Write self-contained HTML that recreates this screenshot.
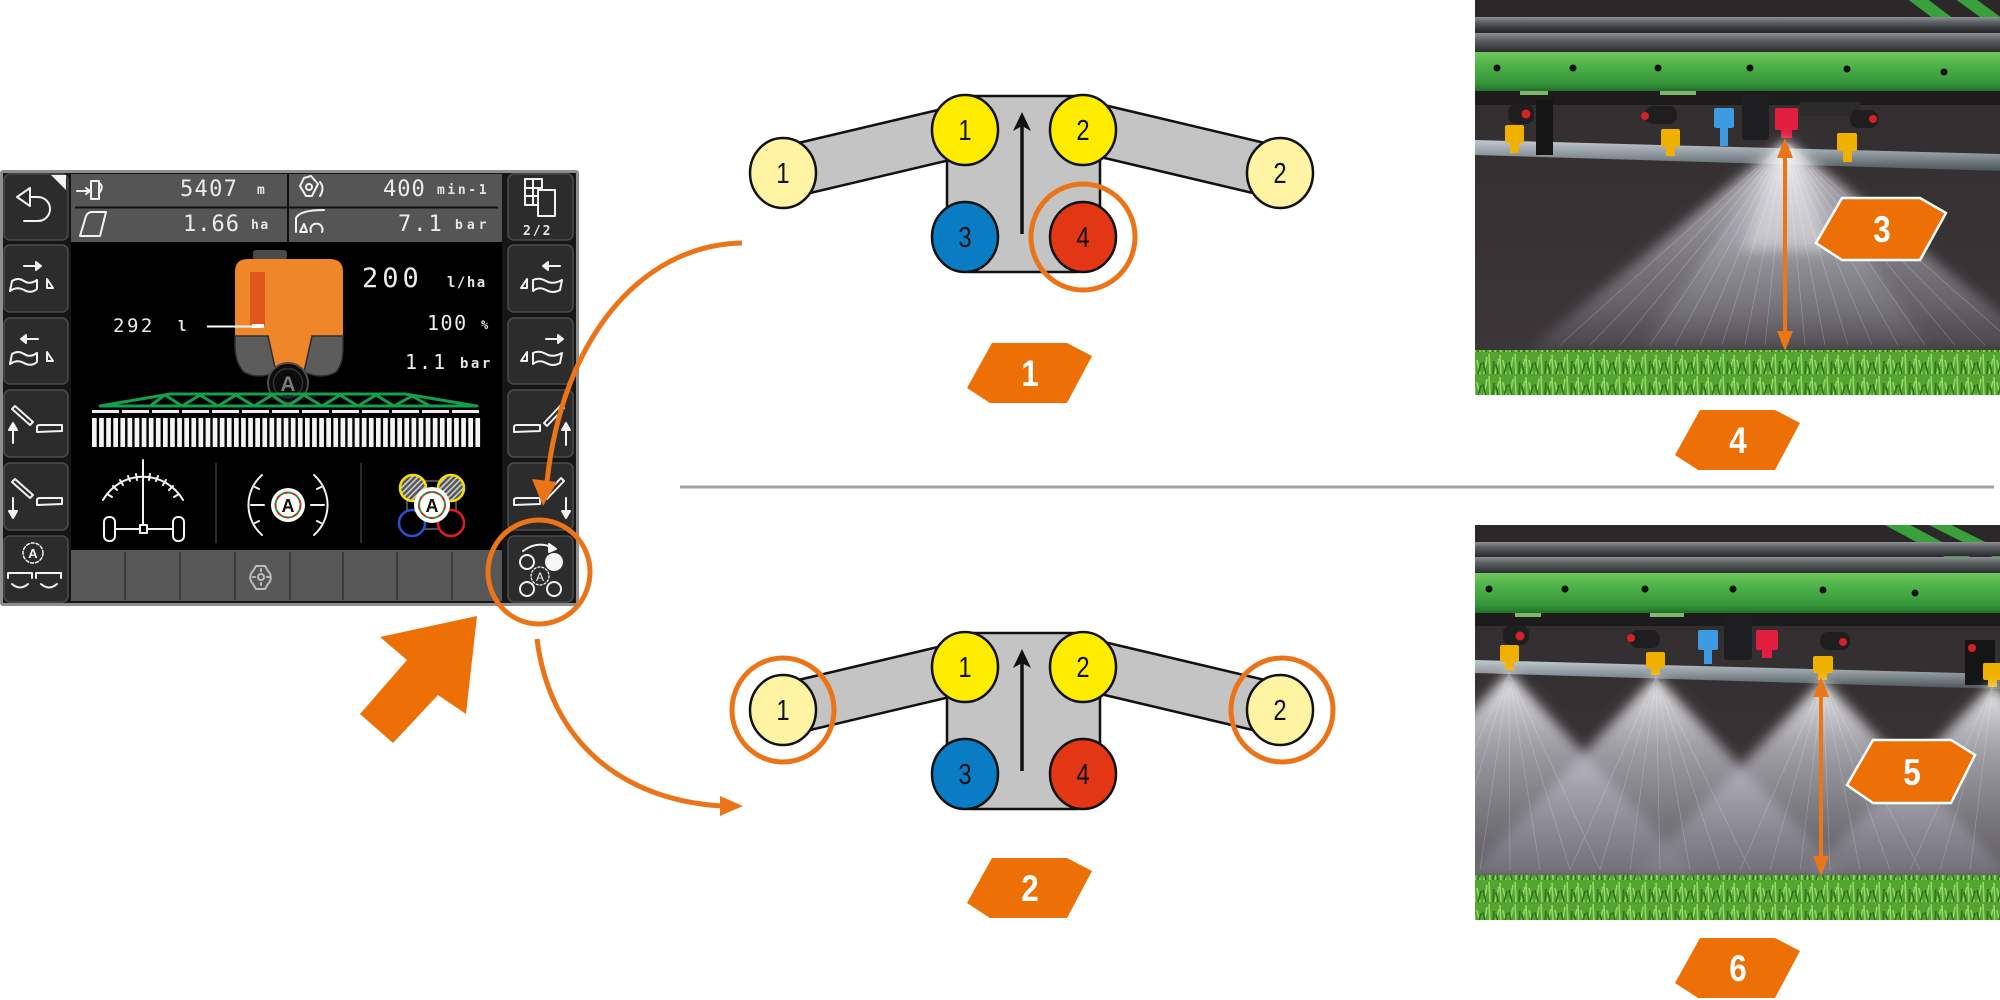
<!DOCTYPE html>
<html><head><meta charset="utf-8">
<style>
html,body{margin:0;padding:0;background:#fff;width:2000px;height:1000px;overflow:hidden;}
svg{display:block;}
.mono{font-family:"DejaVu Sans Mono","Liberation Mono",monospace;fill:#ececec;}
.u{font-family:"DejaVu Sans Mono","Liberation Mono",monospace;fill:#e6e6e6;font-weight:bold;}
.num{font-family:"Liberation Sans Narrow","Liberation Sans",sans-serif;font-size:29px;fill:#111;text-anchor:middle;}
.lab{font-family:"Liberation Sans Narrow","Liberation Sans",sans-serif;font-size:37px;font-weight:bold;fill:#fff;text-anchor:middle;}
.ic{fill:none;stroke:#f2f2f2;stroke-width:2;stroke-linejoin:round;stroke-linecap:round;}
</style></head><body>
<svg width="2000" height="1000" viewBox="0 0 2000 1000" xmlns="http://www.w3.org/2000/svg">
<defs>
  <linearGradient id="beam" x1="0" y1="0" x2="0" y2="1">
    <stop offset="0" stop-color="#6ec85c"/><stop offset="0.35" stop-color="#4db248"/>
    <stop offset="0.8" stop-color="#35963a"/><stop offset="1" stop-color="#216f2a"/>
  </linearGradient>
  <linearGradient id="tube" x1="0" y1="0" x2="0" y2="1">
    <stop offset="0" stop-color="#8d9194"/><stop offset="0.35" stop-color="#5f6366"/><stop offset="1" stop-color="#2a2c2e"/>
  </linearGradient>
  <linearGradient id="pipe" x1="0" y1="0" x2="0" y2="1">
    <stop offset="0" stop-color="#c2cad0"/><stop offset="0.45" stop-color="#8f999f"/><stop offset="1" stop-color="#4a5256"/>
  </linearGradient>
  <linearGradient id="cone" x1="0" y1="0" x2="0" y2="1">
    <stop offset="0" stop-color="#ffffff" stop-opacity="1"/>
    <stop offset="0.3" stop-color="#d4d4de" stop-opacity="0.8"/>
    <stop offset="0.8" stop-color="#9a9aa4" stop-opacity="0.55"/>
    <stop offset="1" stop-color="#707078" stop-opacity="0.35"/>
  </linearGradient>
  <linearGradient id="cone2" x1="0" y1="0" x2="0" y2="1">
    <stop offset="0" stop-color="#ffffff" stop-opacity="1"/>
    <stop offset="0.35" stop-color="#c8c8d2" stop-opacity="0.8"/>
    <stop offset="1" stop-color="#80808a" stop-opacity="0.55"/>
  </linearGradient>
  <linearGradient id="bgph" x1="0" y1="0" x2="0" y2="1">
    <stop offset="0" stop-color="#2f2b2c"/><stop offset="1" stop-color="#3d3739"/>
  </linearGradient>
  <pattern id="grass" width="26" height="22" patternUnits="userSpaceOnUse">
    <rect width="26" height="22" fill="#53a430"/>
    <path d="M2,22 L5,5 M8,22 L7,2 M13,22 L17,7 M19,22 L18,3 M24,22 L21,8" stroke="#96d868" stroke-width="1.6" fill="none"/>
    <path d="M4,22 L1,10 M11,22 L12,9 M16,22 L14,12 M22,22 L25,11" stroke="#2e701c" stroke-width="1.6" fill="none"/>
  </pattern>
  <pattern id="hatch" width="4" height="4" patternUnits="userSpaceOnUse" patternTransform="rotate(45)">
    <rect width="4" height="4" fill="#555"/><rect width="1.6" height="4" fill="#cfcfcf"/>
  </pattern>
  <filter id="soft" x="-10%" y="-10%" width="120%" height="120%"><feGaussianBlur stdDeviation="6"/></filter>
  <clipPath id="ph1"><rect x="1475" y="0" width="525" height="395"/></clipPath>
  <clipPath id="ph2"><rect x="1475" y="525" width="525" height="395"/></clipPath>
</defs>

<rect width="2000" height="1000" fill="#fff"/>

<!-- ================= SCREEN ================= -->
<rect x="0" y="170" width="579" height="436" rx="3" fill="#8e8e8e"/>
<rect x="3" y="173" width="573" height="430" fill="#161616"/>
<rect x="71" y="174" width="431" height="68" fill="#555"/>
<line x1="75" y1="207.5" x2="498" y2="207.5" stroke="#111" stroke-width="2"/>
<line x1="288" y1="174" x2="288" y2="242" stroke="#111" stroke-width="2"/>
<rect x="71" y="242" width="431" height="308" fill="#000"/>
<rect x="71" y="550" width="431" height="51" fill="#575757"/>
<g stroke="#3a3a3a" stroke-width="2">
  <line x1="125" y1="552" x2="125" y2="600"/><line x1="180" y1="552" x2="180" y2="600"/>
  <line x1="235" y1="552" x2="235" y2="600"/><line x1="290" y1="552" x2="290" y2="600"/>
  <line x1="343" y1="552" x2="343" y2="600"/><line x1="397" y1="552" x2="397" y2="600"/>
  <line x1="452" y1="552" x2="452" y2="600"/>
</g>
<g class="ic" stroke-width="1.5" style="stroke:#bdbdbd">
  <path d="M256,566 h9 l3,5 a9,9 0 0 1 0,13 l-3,5 h-9 l-3,-5 a9,9 0 0 1 0,-13 z"/>
  <circle cx="261" cy="577" r="3"/>
  <path d="M261,571 v-2 M261,583 v2 M255,577 h-2 M267,577 h2"/>
</g>

<g fill="#2c2c2c" stroke="#4c4c4c" stroke-width="1.5">
  <rect x="4" y="174" width="64" height="66" rx="6"/>
  <rect x="4" y="245" width="64" height="67" rx="6"/>
  <rect x="4" y="318" width="64" height="66" rx="6"/>
  <rect x="4" y="390" width="64" height="67" rx="6"/>
  <rect x="4" y="463" width="64" height="67" rx="6"/>
  <rect x="4" y="536" width="64" height="66" rx="6"/>
  <rect x="508" y="174" width="65" height="66" rx="6"/>
  <rect x="508" y="245" width="65" height="67" rx="6"/>
  <rect x="508" y="318" width="65" height="66" rx="6"/>
  <rect x="508" y="390" width="65" height="67" rx="6"/>
  <rect x="508" y="463" width="65" height="67" rx="6"/>
  <rect x="508" y="536" width="65" height="66" rx="6"/>
</g>

<polygon points="51,175 66,175 66,190" fill="#f4f4f4"/>
<g class="ic">
  <path d="M17,197 L30,188 L30,206 Z"/>
  <path d="M30,197 H38 A12,12 0 0 1 38,221 H24"/>
  <path d="M24,266 H36"/><path d="M36,262 L41,266 L36,270 Z" fill="#f2f2f2"/>
  <path d="M10,291 L12,281 Q18,277 24,281 Q30,285 37,280 L37,289 Q31,294 24,290 Q17,286 10,291 Z"/>
  <path d="M47,288 L47,279 L53,288 Z"/>
  <path d="M26,339 H38"/><path d="M26,335 L21,339 L26,343 Z" fill="#f2f2f2"/>
  <path d="M10,364 L12,354 Q18,350 24,354 Q30,358 37,353 L37,362 Q31,367 24,363 Q17,359 10,364 Z"/>
  <path d="M47,361 L47,352 L53,361 Z"/>
  <path d="M12,409 L15,406 L33,422 L30,425 Z"/>
  <path d="M37,432 V427 Q37,425 40,425 H62 V431 Z"/>
  <path d="M13,443 V428"/><path d="M9,430 L13,423 L17,430 Z" fill="#f2f2f2"/>
  <path d="M12,482 L15,479 L33,495 L30,498 Z"/>
  <path d="M37,505 V500 Q37,498 40,498 H62 V504 Z"/>
  <path d="M13,498 V513"/><path d="M9,511 L13,518 L17,511 Z" fill="#f2f2f2"/>
  <circle cx="33" cy="553" r="10" stroke-dasharray="3 2" stroke-width="1.5"/>
  <path d="M8,578 V573 H32 V578 M36,578 V573 H61 V578"/>
  <path d="M12,584 Q20,591 28,584 M41,584 Q49,591 57,584"/>
</g>
<text x="33" y="558" font-family="Liberation Sans, sans-serif" font-size="13" font-weight="bold" fill="#f2f2f2" text-anchor="middle">A</text>

<g class="ic">
  <rect x="525" y="179" width="17" height="26"/>
  <path d="M533,179 V205 M525,188 H542 M525,196 H542"/>
  <rect x="538" y="190" width="17" height="26" fill="#2c2c2c"/>
  <path d="M548,266 H560"/><path d="M548,262 L543,266 L548,270 Z" fill="#f2f2f2"/>
  <path d="M521,288 L527,279 L527,288 Z"/>
  <path d="M533,291 L533,280 Q539,277 546,281 Q553,285 562,280 L560,290 Q553,294 546,290 Q539,286 533,291 Z"/>
  <path d="M546,339 H558"/><path d="M558,335 L563,339 L558,343 Z" fill="#f2f2f2"/>
  <path d="M521,361 L527,352 L527,361 Z"/>
  <path d="M533,364 L533,353 Q539,350 546,354 Q553,358 562,353 L560,363 Q553,367 546,363 Q539,359 533,364 Z"/>
  <path d="M514,432 V427 Q514,425 517,425 H540 V431 Z"/>
  <path d="M544,423 L547,426 L564,408 L561,405 Z"/>
  <path d="M566,445 V428"/><path d="M562,430 L566,423 L570,430 Z" fill="#f2f2f2"/>
  <path d="M514,505 V500 Q514,498 517,498 H540 V504 Z"/>
  <path d="M544,496 L547,499 L564,481 L561,478 Z"/>
  <path d="M566,498 V513"/><path d="M562,511 L566,518 L570,511 Z" fill="#f2f2f2"/>
  <path d="M523,551 Q538,540 553,548"/>
  <path d="M549,544 L556,549 L549,552 Z" fill="#f2f2f2"/>
  <circle cx="527" cy="562" r="7"/>
  <circle cx="527" cy="589" r="7"/>
  <circle cx="554" cy="589" r="7"/>
  <circle cx="540" cy="576" r="9" stroke-dasharray="2 2" stroke-width="1.3"/>
</g>
<circle cx="554" cy="562" r="9" fill="#f6f6f6"/>
<text x="540" y="581" font-family="Liberation Sans, sans-serif" font-size="12" fill="#f2f2f2" text-anchor="middle">A</text>
<text x="523" y="235" class="u" font-size="13" letter-spacing="2">2/2</text>

<g class="ic" stroke-width="1.6">
  <path d="M77,191 H88"/><path d="M86,188 L90,191 L86,194"/>
  <path d="M91,181 H99 V199 H91 Z"/><path d="M99,183 Q104,186 100,192"/>
  <path d="M80,236 L86,216 Q88,212 92,212 H106 L100,236 Z"/>
  <path d="M304,178 L311,176 L318,184 L312,196 L306,196 L300,186 Z"/><circle cx="309" cy="187" r="3"/>
  <path d="M320,182 Q325,188 320,196"/>
  <path d="M296,218 Q300,210 324,210 M296,219 V232 M300,232 L304,224 L307,232 Z"/>
  <path d="M311,232 A6,6 0 1 1 322,232"/>
</g>

<text x="180" y="196" class="mono" font-size="22" letter-spacing="1.3">5407</text>
<text x="257" y="194" class="u" font-size="13">m</text>
<text x="183" y="231" class="mono" font-size="22" letter-spacing="1">1.66</text>
<text x="251" y="229" class="u" font-size="13" letter-spacing="1.5">ha</text>
<text x="383" y="196" class="mono" font-size="22" letter-spacing="1">400</text>
<text x="437" y="194" class="u" font-size="13" letter-spacing="2.6">min-1</text>
<text x="398" y="231" class="mono" font-size="22" letter-spacing="2">7.1</text>
<text x="455" y="229" class="u" font-size="13" letter-spacing="4">bar</text>

<rect x="253" y="250" width="34" height="10" rx="3" fill="#4a4a4a"/>
<path d="M235,336 V272 Q235,259 248,259 H330 Q343,259 343,272 V336 Z" fill="#f0862a"/>
<rect x="250" y="272" width="15" height="54" fill="#e0561c"/>
<path d="M268,335 H312 L305,370 H275 Z" fill="#f0862a"/>
<path d="M235,336 H268 L276,372 Q258,380 244,372 Q236,364 235,348 Z" fill="#5c5c5c" stroke="#2e2e2e" stroke-width="1.5"/>
<path d="M343,336 H312 L304,372 Q322,380 336,372 Q343,364 343,348 Z" fill="#5c5c5c" stroke="#2e2e2e" stroke-width="1.5"/>
<line x1="207" y1="326.5" x2="263" y2="326.5" stroke="#fff" stroke-width="2"/>
<rect x="252" y="324" width="12" height="4" fill="#fff"/>
<circle cx="288" cy="383" r="20" fill="#0c0c0c" stroke="#4e4e4e" stroke-width="2"/>
<circle cx="288" cy="383" r="14.5" fill="none" stroke="#333" stroke-width="1.5"/>
<text x="288" y="391" font-family="Liberation Sans, sans-serif" font-size="21" font-weight="bold" fill="#7a7a7a" text-anchor="middle">A</text>

<text x="113" y="332" class="mono" font-size="19" letter-spacing="2.5">292</text>
<text x="178" y="331" class="u" font-size="14">l</text>
<text x="362" y="287" class="mono" font-size="27" letter-spacing="4">200</text>
<text x="447" y="287" class="u" font-size="14" letter-spacing="1.5">l/ha</text>
<text x="427" y="330" class="mono" font-size="20" letter-spacing="1.5">100</text>
<text x="481" y="329" class="u" font-size="12">%</text>
<text x="405" y="369" class="mono" font-size="20" letter-spacing="2">1.1</text>
<text x="460" y="368" class="u" font-size="14" letter-spacing="2.5">bar</text>

<g fill="none" stroke="#12a04e" stroke-width="3" stroke-linejoin="round">
  <path d="M100,406 L170,394 H405 L477,406 Z"/>
  <polyline points="150,406 165,395 182,406 200,395 218,406 236,395 254,406 272,395 288,406 304,395 322,406 340,395 358,406 376,395 394,406 412,396 430,406"/>
</g>
<line x1="92" y1="411.5" x2="482" y2="411.5" stroke="#eee" stroke-width="3" stroke-dasharray="27 3"/>
<line x1="92" y1="432.5" x2="482" y2="432.5" stroke="#f4f4f4" stroke-width="29" stroke-dasharray="4.7 2.4"/>

<line x1="216" y1="463" x2="216" y2="543" stroke="#2a2a2a" stroke-width="2"/>
<line x1="361" y1="463" x2="361" y2="543" stroke="#2a2a2a" stroke-width="2"/>

<g class="ic" stroke-width="1.6">
  <path d="M103,500 A46,46 0 0 1 183,500"/>
  <path d="M107,494 l5,3 M113,486 l4,4 M120,480 l3,5 M128,476 l2,5 M136,474 l1,6 M150,474 l-1,6 M158,476 l-2,5 M166,480 l-3,5 M173,486 l-4,4 M179,494 l-5,3"/>
  <path d="M143,460 V525"/>
  <rect x="104" y="517" width="11" height="24" rx="5"/>
  <rect x="173" y="517" width="11" height="24" rx="5"/>
  <path d="M115,529 H140 M147,529 H173"/>
  <rect x="140" y="525" width="7" height="8"/>
</g>

<g class="ic" stroke-width="1.6">
  <path d="M262,475 A40,40 0 0 0 262,535"/>
  <path d="M314,475 A40,40 0 0 1 314,535"/>
  <path d="M251,505 H264 M311,505 H324"/>
  <path d="M255,487 l4,2 M255,523 l4,-2 M321,487 l-4,2 M321,523 l-4,-2"/>
</g>
<circle cx="288" cy="505" r="17" fill="#fff"/>
<circle cx="288" cy="505" r="12.5" fill="none" stroke="#e02020" stroke-width="2" stroke-dasharray="5 4"/>
<circle cx="288" cy="505" r="12.5" fill="none" stroke="#1f9a3a" stroke-width="2" stroke-dasharray="5 4" stroke-dashoffset="4.5"/>
<text x="288" y="512" font-family="Liberation Sans, sans-serif" font-size="18" font-weight="bold" fill="#111" text-anchor="middle">A</text>

<rect x="407" y="481" width="49" height="48" fill="none" stroke="#666" stroke-width="1.5"/>
<circle cx="413" cy="488" r="13" fill="url(#hatch)" stroke="#f3e000" stroke-width="2.5"/>
<circle cx="451" cy="488" r="13" fill="url(#hatch)" stroke="#f3e000" stroke-width="2.5"/>
<circle cx="412" cy="523" r="13" fill="#000" stroke="#2a4fcf" stroke-width="2.5"/>
<circle cx="451" cy="523" r="13" fill="#000" stroke="#e01e1e" stroke-width="2.5"/>
<circle cx="432" cy="505" r="18" fill="#fff"/>
<circle cx="432" cy="505" r="13" fill="none" stroke="#e02020" stroke-width="2" stroke-dasharray="5 4"/>
<circle cx="432" cy="505" r="13" fill="none" stroke="#1f9a3a" stroke-width="2" stroke-dasharray="5 4" stroke-dashoffset="4.5"/>
<text x="432" y="512" font-family="Liberation Sans, sans-serif" font-size="18" font-weight="bold" fill="#111" text-anchor="middle">A</text>

<!-- ORANGE ARROWS -->
<g fill="none" stroke="#ec7418" stroke-width="5" stroke-linecap="butt">
  <path d="M742,243 C640,245 562,340 547,482"/>
  <path d="M537,639 C550,742 622,800 722,806"/>
</g>
<polygon points="543,506 532,479 557,482" fill="#ec7418"/>
<polygon points="743,806 720,796 720,816" fill="#ec7418"/>
<ellipse cx="539" cy="572" rx="51" ry="52" fill="none" stroke="#ec7418" stroke-width="5"/>
<polygon points="477,616 380,637 407,660 360,714 393,743 438,695 466,714" fill="#ec7005"/>

<line x1="680" y1="487" x2="1994" y2="487" stroke="#a3a3a3" stroke-width="3"/>

<!-- DIAGRAM 1 -->
<g>
  <g fill="#c4c4c4" stroke="#111" stroke-width="2.5" stroke-linejoin="round">
    <polygon points="789,198 971,155 959,105 777,148"/>
    <polygon points="1274,198 1092,155 1104,105 1286,148"/>
    <rect x="947" y="96" width="153" height="176" rx="24"/>
  </g>
  <line x1="1022" y1="234" x2="1022" y2="124" stroke="#111" stroke-width="3.5"/>
  <polygon points="1022,112 1013,131 1022,126 1031,131" fill="#111"/>
  <g stroke="#111" stroke-width="2.5">
    <ellipse cx="783" cy="173" rx="33" ry="35" fill="#fff4a4"/>
    <ellipse cx="965" cy="130" rx="33" ry="35" fill="#ffed00"/>
    <ellipse cx="1083" cy="130" rx="33" ry="35" fill="#ffed00"/>
    <ellipse cx="1280" cy="173" rx="33" ry="35" fill="#fff4a4"/>
    <ellipse cx="965" cy="237" rx="33" ry="35" fill="#0a7cc4"/>
    <ellipse cx="1083" cy="237" rx="33" ry="35" fill="#e23614"/>
  </g>
  <g class="num">
    <text transform="translate(783,183) scale(0.82,1)">1</text>
    <text transform="translate(965,140) scale(0.82,1)">1</text>
    <text transform="translate(1083,140) scale(0.82,1)">2</text>
    <text transform="translate(1280,183) scale(0.82,1)">2</text>
    <text transform="translate(965,247) scale(0.82,1)">3</text>
    <text transform="translate(1083,247) scale(0.82,1)">4</text>
  </g>
</g>
<ellipse cx="1083" cy="237" rx="52" ry="53" fill="none" stroke="#ec7418" stroke-width="5"/>

<!-- DIAGRAM 2 -->
<g transform="translate(0,537)">
  <g fill="#c4c4c4" stroke="#111" stroke-width="2.5" stroke-linejoin="round">
    <polygon points="789,198 971,155 959,105 777,148"/>
    <polygon points="1274,198 1092,155 1104,105 1286,148"/>
    <rect x="947" y="96" width="153" height="176" rx="24"/>
  </g>
  <line x1="1022" y1="234" x2="1022" y2="124" stroke="#111" stroke-width="3.5"/>
  <polygon points="1022,112 1013,131 1022,126 1031,131" fill="#111"/>
  <g stroke="#111" stroke-width="2.5">
    <ellipse cx="783" cy="173" rx="33" ry="35" fill="#fff4a4"/>
    <ellipse cx="965" cy="130" rx="33" ry="35" fill="#ffed00"/>
    <ellipse cx="1083" cy="130" rx="33" ry="35" fill="#ffed00"/>
    <ellipse cx="1280" cy="173" rx="33" ry="35" fill="#fff4a4"/>
    <ellipse cx="965" cy="237" rx="33" ry="35" fill="#0a7cc4"/>
    <ellipse cx="1083" cy="237" rx="33" ry="35" fill="#e23614"/>
  </g>
  <g class="num">
    <text transform="translate(783,183) scale(0.82,1)">1</text>
    <text transform="translate(965,140) scale(0.82,1)">1</text>
    <text transform="translate(1083,140) scale(0.82,1)">2</text>
    <text transform="translate(1280,183) scale(0.82,1)">2</text>
    <text transform="translate(965,247) scale(0.82,1)">3</text>
    <text transform="translate(1083,247) scale(0.82,1)">4</text>
  </g>
  <ellipse cx="783" cy="173" rx="51" ry="52" fill="none" stroke="#ec7418" stroke-width="5"/>
  <ellipse cx="1282" cy="173" rx="51" ry="52" fill="none" stroke="#ec7418" stroke-width="5"/>
</g>

<!-- LABELS -->
<g fill="#ec7005">
  <path transform="translate(967,343)" d="M25,0 H100 L125,13 L100,60 H23 L0,45 Z"/>
  <path transform="translate(967,858)" d="M25,0 H100 L125,13 L100,60 H23 L0,45 Z"/>
  <path transform="translate(1675,410)" d="M25,0 H100 L125,13 L100,60 H23 L0,45 Z"/>
  <path transform="translate(1675,938)" d="M25,0 H100 L125,13 L100,60 H23 L0,45 Z"/>
</g>
<text class="lab" transform="translate(1030,386) scale(0.85,1)">1</text>
<text class="lab" transform="translate(1030,901) scale(0.85,1)">2</text>
<text class="lab" transform="translate(1738,453) scale(0.85,1)">4</text>
<text class="lab" transform="translate(1738,981) scale(0.85,1)">6</text>

<!-- PHOTO 1 -->
<g clip-path="url(#ph1)">
  <rect x="1475" y="0" width="525" height="395" fill="url(#bgph)"/>
  <rect x="1475" y="0" width="525" height="17" fill="#2c2829"/>
  <line x1="1912" y1="-5" x2="1948" y2="22" stroke="#3aa03c" stroke-width="12"/>
  <line x1="1960" y1="-5" x2="2000" y2="24" stroke="#3aa03c" stroke-width="12"/>
  <rect x="1475" y="17" width="525" height="14" fill="url(#tube)"/>
  <rect x="1475" y="33" width="525" height="19" fill="url(#tube)"/>
  <rect x="1475" y="52" width="525" height="39" fill="url(#beam)"/>
  <g fill="#111">
    <circle cx="1497" cy="68" r="3.5"/><circle cx="1573" cy="68" r="3.5"/><circle cx="1658" cy="68" r="3.5"/>
    <circle cx="1750" cy="68" r="3.5"/><circle cx="1847" cy="69" r="3.5"/><circle cx="1944" cy="72" r="3.5"/>
  </g>
  <rect x="1475" y="91" width="525" height="14" fill="#1d1b1c"/>
  <rect x="1520" y="91" width="28" height="4" fill="#7fb86a"/>
  <rect x="1660" y="91" width="36" height="4" fill="#7fb86a"/>
  <polygon points="1475,140 2000,154 2000,171 1475,155" fill="url(#pipe)"/>
  <g fill="#1e1e20">
    <rect x="1508" y="104" width="26" height="20" rx="8"/>
    <rect x="1536" y="100" width="17" height="55" fill="#161516"/>
    <rect x="1645" y="106" width="32" height="18" rx="8"/>
    <rect x="1742" y="93" width="27" height="47" rx="3"/>
    <rect x="1800" y="102" width="60" height="14" fill="#2a2a2c"/>
    <rect x="1850" y="110" width="28" height="18" rx="8"/>
  </g>
  <g fill="#d82028">
    <circle cx="1526" cy="114" r="4.5"/><circle cx="1645" cy="116" r="4"/><circle cx="1873" cy="119" r="4"/>
  </g>
  <g fill="#f0b000">
    <rect x="1505" y="125" width="19" height="18" rx="2"/><rect x="1510" y="143" width="9" height="10"/>
    <rect x="1661" y="129" width="19" height="18" rx="2"/><rect x="1666" y="147" width="9" height="9"/>
    <rect x="1837" y="133" width="20" height="18" rx="2"/><rect x="1843" y="151" width="9" height="11"/>
  </g>
  <rect x="1714" y="108" width="20" height="20" rx="2" fill="#3c9be0"/>
  <rect x="1720" y="128" width="8" height="18" fill="#3c9be0"/>
  <rect x="1775" y="108" width="23" height="22" rx="2" fill="#e21e40"/>
  <rect x="1781" y="128" width="11" height="10" fill="#e21e40"/>
  <g filter="url(#soft)">
    <polygon points="1786,140 2045,350 1528,350" fill="url(#cone)" opacity="0.8"/>
    <polygon points="1786,140 1930,350 1640,350" fill="url(#cone)" opacity="0.6"/>
    <polygon points="1786,140 1830,250 1742,250" fill="#ffffff" opacity="0.4"/>
  </g>
  <g stroke="#ffffff" stroke-width="0.8" opacity="0.22">
    <path d="M1786,142 L1560,345 M1786,142 L1590,345 M1786,142 L1620,345 M1786,142 L1650,345 M1786,142 L1675,345 M1786,142 L1700,345 M1786,142 L1722,345 M1786,142 L1745,345 M1786,142 L1765,345 M1786,142 L1785,345 M1786,142 L1805,345 M1786,142 L1825,345 M1786,142 L1848,345 M1786,142 L1872,345 M1786,142 L1898,345 M1786,142 L1925,345 M1786,142 L1955,345 M1786,142 L1985,345 M1786,142 L2010,340"/>
  </g>
  <rect x="1475" y="350" width="525" height="45" fill="url(#grass)"/>
  <line x1="1785" y1="155" x2="1785" y2="334" stroke="#ea7618" stroke-width="4"/>
  <polygon points="1785,138 1777,158 1793,158" fill="#ea7618"/>
  <polygon points="1785,351 1777,331 1793,331" fill="#ea7618"/>
</g>
<path transform="translate(1816,198)" d="M26,0 H104 L130,15 L104,62 H26 L0,45 Z" fill="#ec7005" stroke="#fff" stroke-width="2.5"/>
<text class="lab" transform="translate(1882,242) scale(0.85,1)">3</text>

<!-- PHOTO 2 -->
<g clip-path="url(#ph2)">
  <rect x="1475" y="525" width="525" height="395" fill="url(#bgph)"/>
  <rect x="1475" y="525" width="525" height="17" fill="#2c2829"/>
  <line x1="1888" y1="520" x2="2010" y2="585" stroke="#3aa03c" stroke-width="12"/>
  <line x1="1930" y1="520" x2="2010" y2="560" stroke="#3aa03c" stroke-width="10"/>
  <rect x="1475" y="542" width="525" height="14" fill="url(#tube)"/>
  <rect x="1475" y="557" width="525" height="16" fill="url(#tube)"/>
  <rect x="1475" y="573" width="525" height="40" fill="url(#beam)"/>
  <g fill="#111">
    <circle cx="1489" cy="589" r="3.5"/><circle cx="1565" cy="589" r="3.5"/><circle cx="1645" cy="589" r="3.5"/>
    <circle cx="1733" cy="589" r="3.5"/><circle cx="1823" cy="590" r="3.5"/><circle cx="1915" cy="593" r="3.5"/>
  </g>
  <rect x="1475" y="613" width="525" height="13" fill="#1d1b1c"/>
  <rect x="1515" y="613" width="26" height="4" fill="#7fb86a"/>
  <rect x="1650" y="613" width="34" height="4" fill="#7fb86a"/>
  <polygon points="1475,660 2000,674 2000,689 1475,673" fill="url(#pipe)"/>
  <g fill="#1e1e20">
    <rect x="1503" y="625" width="26" height="20" rx="8"/>
    <rect x="1630" y="630" width="30" height="18" rx="8"/>
    <rect x="1724" y="615" width="28" height="45" rx="3"/>
    <rect x="1820" y="632" width="30" height="18" rx="8"/>
    <rect x="1965" y="640" width="30" height="45" fill="#161516"/>
  </g>
  <g fill="#d82028">
    <circle cx="1520" cy="636" r="4.5"/><circle cx="1631" cy="638" r="4"/><circle cx="1843" cy="642" r="4"/><circle cx="1972" cy="648" r="4"/>
  </g>
  <g fill="#f0b000">
    <rect x="1500" y="645" width="19" height="17" rx="2"/><rect x="1505" y="660" width="9" height="10"/>
    <rect x="1646" y="652" width="19" height="16" rx="2"/><rect x="1651" y="666" width="9" height="9"/>
    <rect x="1813" y="656" width="20" height="17" rx="2"/><rect x="1818" y="671" width="9" height="9"/>
    <rect x="1983" y="663" width="20" height="17" rx="2"/><rect x="1988" y="678" width="9" height="9"/>
  </g>
  <rect x="1698" y="630" width="20" height="20" rx="2" fill="#3c9be0"/>
  <rect x="1704" y="648" width="8" height="16" fill="#3c9be0"/>
  <rect x="1756" y="630" width="22" height="20" rx="2" fill="#e21e40"/>
  <rect x="1762" y="648" width="10" height="10" fill="#e21e40"/>
  <g filter="url(#soft)">
    <polygon points="1509,672 1700,880 1318,880" fill="url(#cone2)" opacity="0.9"/>
    <polygon points="1656,676 1847,880 1465,880" fill="url(#cone2)" opacity="0.9"/>
    <polygon points="1823,680 2014,880 1632,880" fill="url(#cone2)" opacity="0.9"/>
    <polygon points="1993,684 2184,880 1802,880" fill="url(#cone2)" opacity="0.9"/>
  </g>
  <g stroke="#ffffff" stroke-width="0.8" opacity="0.2">
    <path d="M1509,672 L1420,870 M1509,672 L1450,870 M1509,672 L1480,870 M1509,672 L1510,870 M1509,672 L1540,870 M1509,672 L1570,870 M1509,672 L1600,870"/>
    <path d="M1656,676 L1570,870 M1656,676 L1600,870 M1656,676 L1630,870 M1656,676 L1660,870 M1656,676 L1690,870 M1656,676 L1720,870 M1656,676 L1750,870"/>
    <path d="M1823,680 L1740,870 M1823,680 L1770,870 M1823,680 L1800,870 M1823,680 L1830,870 M1823,680 L1860,870 M1823,680 L1890,870 M1823,680 L1920,870"/>
    <path d="M1993,684 L1910,870 M1993,684 L1940,870 M1993,684 L1970,870"/>
  </g>
  <rect x="1475" y="875" width="525" height="45" fill="url(#grass)"/>
  <line x1="1821" y1="695" x2="1821" y2="858" stroke="#ea7618" stroke-width="4"/>
  <polygon points="1821,677 1813,697 1829,697" fill="#ea7618"/>
  <polygon points="1821,876 1813,856 1829,856" fill="#ea7618"/>
</g>
<path transform="translate(1847,740)" d="M26,0 H104 L128,15 L104,63 H26 L0,45 Z" fill="#ec7005" stroke="#fff" stroke-width="2.5"/>
<text class="lab" transform="translate(1912,785) scale(0.85,1)">5</text>

</svg>
</body></html>
